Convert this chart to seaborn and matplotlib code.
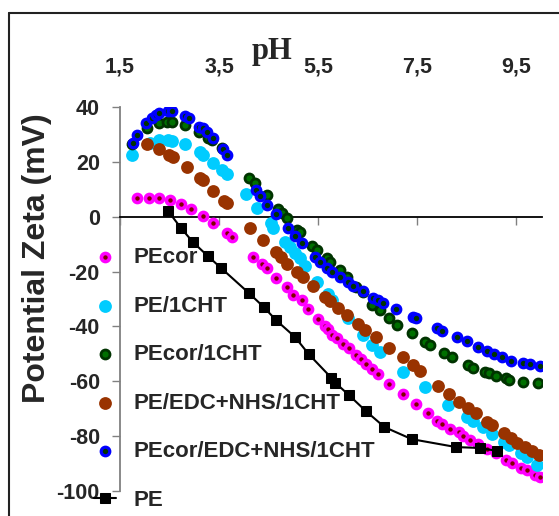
import matplotlib
matplotlib.use("Agg")
import matplotlib.pyplot as plt
from matplotlib.lines import Line2D
import seaborn as sns
import pandas as pd

# ---------------- data ----------------
x_ticks = [1.5, 3.5, 5.5, 7.5, 9.5]
x_tick_labels = ["1,5", "3,5", "5,5", "7,5", "9,5"]
y_ticks = [-100, -80, -60, -40, -20, 0, 20, 40]
y_tick_labels = ["-100", "-80", "-60", "-40", "-20", "0", "20", "40"]

pecor_ph = [1.84, 2.08, 2.29, 2.51, 2.73, 2.93, 3.17, 3.38, 3.66, 3.76, 4.18, 4.36, 4.46, 4.65,
            4.87, 4.99, 5.17, 5.29, 5.49, 5.63, 5.69, 5.79, 5.88, 6.00, 6.12, 6.26, 6.36, 6.46,
            6.58, 6.70, 6.94, 7.21, 7.47, 7.71, 7.91, 8.01, 8.17, 8.35, 8.42, 8.56, 8.72, 8.90,
            9.10, 9.30, 9.42, 9.60, 9.71, 9.87, 9.97]
pecor_z = [6.8, 6.8, 6.8, 6.1, 4.6, 2.8, 0.3, -2.3, -6.0, -7.4, -14.7, -17.2, -18.7, -22.3,
           -25.6, -28.5, -30.4, -33.6, -37.3, -39.8, -40.9, -43.1, -44.2, -46.4, -47.9, -50.4,
           -51.9, -53.7, -55.5, -57.3, -61.0, -64.6, -68.3, -71.6, -74.5, -75.6, -77.4, -78.5,
           -80.0, -81.4, -82.9, -84.7, -86.1, -88.7, -89.8, -91.6, -92.4, -94.2, -94.9]

pe1cht_ph = [1.74, 2.10, 2.29, 2.47, 2.55, 2.81, 3.11, 3.17, 3.38, 3.56, 3.66, 4.04, 4.26, 4.54,
             4.58, 4.83, 4.93, 5.03, 5.13, 5.23, 5.47, 5.69, 5.79, 6.10, 6.40, 6.58, 6.74, 7.21,
             7.65, 8.13, 8.50, 8.62, 8.82, 9.02, 9.26, 9.36, 9.60, 9.71, 9.91]
pe1cht_z = [22.5, 26.9, 28.0, 28.0, 27.6, 26.5, 23.6, 22.5, 19.6, 17.0, 15.6, 8.3, 3.2, -2.3,
            -4.1, -9.2, -11.0, -13.2, -15.0, -17.9, -23.8, -28.2, -30.4, -36.9, -43.1, -46.8,
            -49.3, -56.6, -62.1, -68.7, -73.0, -74.5, -76.7, -79.2, -82.1, -83.2, -86.1, -87.6,
            -90.5]

pecor1cht_ph = [1.74, 2.04, 2.29, 2.45, 2.55, 2.81, 3.09, 3.27, 3.35, 3.56, 4.10, 4.22, 4.46,
                4.69, 4.77, 4.87, 5.07, 5.13, 5.37, 5.47, 5.67, 5.73, 5.94, 6.08, 6.26, 6.40,
                6.58, 6.74, 6.94, 7.10, 7.39, 7.65, 7.75, 8.05, 8.21, 8.52, 8.62, 8.86, 8.94,
                9.10, 9.30, 9.36, 9.63, 9.93]
pecor1cht_z = [26.5, 32.3, 34.2, 34.5, 34.5, 33.4, 30.9, 28.7, 28.0, 25.0, 14.1, 12.3, 7.9,
               2.8, 1.3, -0.5, -4.8, -5.6, -10.7, -12.1, -15.0, -16.5, -19.4, -22.0, -25.6,
               -27.5, -32.2, -34.0, -36.9, -39.5, -42.4, -45.7, -46.8, -49.7, -51.2, -54.1,
               -55.2, -56.6, -57.0, -58.0, -58.8, -59.5, -60.2, -60.6]

peedc_ph = [2.04, 2.29, 2.49, 2.57, 2.85, 3.11, 3.17, 3.38, 3.60, 3.66, 4.12, 4.38, 4.65, 4.75,
            4.87, 5.07, 5.19, 5.39, 5.63, 5.73, 5.90, 6.08, 6.30, 6.44, 6.66, 6.94, 7.21, 7.41,
            7.55, 7.93, 8.15, 8.35, 8.52, 8.68, 8.90, 9.02, 9.26, 9.40, 9.52, 9.67, 9.81, 9.95]
peedc_z = [26.5, 24.7, 22.5, 21.8, 18.1, 14.1, 13.4, 9.4, 5.7, 5.0, -4.1, -8.5, -12.9, -14.7,
           -17.2, -20.1, -22.0, -25.3, -29.3, -30.7, -33.3, -35.8, -39.1, -41.3, -43.8, -47.9,
           -51.2, -54.1, -56.3, -61.7, -64.6, -67.5, -69.8, -71.6, -74.9, -75.9, -78.9, -80.7,
           -82.5, -84.0, -85.4, -86.9]

pecoredc_ph = [1.76, 1.84, 2.02, 2.15, 2.23, 2.29, 2.47, 2.55, 2.81, 2.89, 3.09, 3.17, 3.25,
               3.38, 3.58, 3.66, 4.24, 4.32, 4.46, 4.65, 4.89, 5.03, 5.17, 5.43, 5.53, 5.67,
               5.79, 5.94, 6.10, 6.20, 6.40, 6.60, 6.70, 6.80, 7.08, 7.41, 7.47, 7.91, 8.01,
               8.31, 8.50, 8.72, 8.90, 9.06, 9.22, 9.40, 9.63, 9.77, 9.97]
pecoredc_z = [26.9, 29.8, 34.2, 36.0, 37.1, 37.8, 38.5, 38.5, 36.7, 36.0, 32.7, 32.3, 30.9,
              28.7, 24.7, 22.5, 9.7, 7.5, 4.3, 1.0, -4.1, -7.0, -9.6, -14.7, -16.5, -18.7,
              -20.1, -22.0, -23.8, -25.3, -27.1, -29.6, -30.4, -31.4, -33.6, -36.6, -36.9,
              -40.6, -41.7, -43.8, -45.3, -47.5, -49.0, -50.1, -51.2, -52.6, -53.4, -53.7, -54.4]

pe_ph = [2.47, 2.73, 2.97, 3.27, 3.54, 4.10, 4.40, 4.65, 5.03, 5.31, 5.77, 5.85, 6.12, 6.46,
         6.84, 7.39, 8.29, 8.76, 9.12]
pe_z = [2.1, -4.1, -9.2, -14.3, -18.7, -27.8, -32.9, -37.7, -43.8, -50.1, -58.8, -60.6, -65.0,
        -70.8, -76.7, -81.1, -84.0, -84.3, -85.4]

# ---------------- style ----------------
sns.set_style("white")
plt.rcParams["font.family"] = ["Liberation Sans", "DejaVu Sans"]
plt.rcParams["font.weight"] = "bold"

W, H = 559, 516
fig = plt.figure(figsize=(W / 100, H / 100), dpi=100)
ax = fig.add_axes([120 / W, 1 - 491 / H, 422 / W, 384 / H])

series = [
    ("PEcor", pecor_ph, pecor_z, dict(s=34, color="#800000", edgecolor="#FF00FF", linewidth=2.6)),
    ("PE/1CHT", pe1cht_ph, pe1cht_z, dict(s=85, color="#00CCFF", edgecolor="#00CCFF", linewidth=0)),
    ("PEcor/1CHT", pecor1cht_ph, pecor1cht_z, dict(s=42, color="#007000", edgecolor="#003300", linewidth=2.0)),
    ("PE/EDC+NHS/1CHT", peedc_ph, peedc_z, dict(s=85, color="#993300", edgecolor="#993300", linewidth=0)),
    ("PEcor/EDC+NHS/1CHT", pecoredc_ph, pecoredc_z, dict(s=38, color="#003300", edgecolor="#0000FF", linewidth=2.3)),
]
for name, xs, ys, kw in series:
    df = pd.DataFrame({"pH": xs, "zeta": ys})
    sns.scatterplot(data=df, x="pH", y="zeta", ax=ax, label=name, zorder=3, **kw)

df_pe = pd.DataFrame({"pH": pe_ph, "zeta": pe_z})
sns.lineplot(data=df_pe, x="pH", y="zeta", ax=ax, color="black", marker="s", markersize=6.8,
             markeredgecolor="black", linewidth=1.5, label="PE", sort=False, zorder=4)

ax.set_xlim(1.5, 10.02)
ax.set_ylim(-100, 40)

# spines
for sp in ["top", "right"]:
    ax.spines[sp].set_visible(False)
ax.spines["bottom"].set_position(("data", 0))
ax.spines["bottom"].set_color("black")
ax.spines["bottom"].set_linewidth(1.3)
ax.spines["left"].set_color("#808080")
ax.spines["left"].set_linewidth(1.3)

ax.set_xticks(x_ticks)
ax.set_yticks(y_ticks)
ax.tick_params(axis="x", direction="out", length=5.5, width=1, color="#808080",
               bottom=True, top=False, labelbottom=False, labeltop=True, pad=16)
ax.tick_params(axis="y", direction="out", length=5.5, width=1, color="#808080",
               left=True, pad=9)
ax.set_xticklabels(x_tick_labels, fontweight="bold", fontsize=15.5)
ax.set_yticklabels(y_tick_labels, fontweight="bold", fontsize=15.5)

ax.set_xlabel("")
ax.set_ylabel("")
fig.text(37 / W, 1 - 258 / H, "Potential Zeta (mV)", rotation=90, ha="center", va="center",
         fontsize=23, fontweight="bold")
fig.text(272 / W, 1 - 51 / H, "pH", ha="center", va="center", fontsize=22,
         fontweight="bold", family=["Liberation Serif", "DejaVu Serif"])

leg = ax.legend(loc="upper left", bbox_to_anchor=(94 / W, 1 - 247 / H),
                bbox_transform=fig.transFigure, frameon=False, borderaxespad=0,
                borderpad=0, handlelength=1.0, handletextpad=0.77, labelspacing=1.24,
                prop={"weight": "bold", "size": 16})

# figure frame (top and left edges)
fig.add_artist(Line2D([9 / W, 1.0], [1 - 13 / H, 1 - 13 / H], transform=fig.transFigure,
                      color="#222222", linewidth=1.5))
fig.add_artist(Line2D([9 / W, 9 / W], [0.0, 1 - 13 / H], transform=fig.transFigure,
                      color="#222222", linewidth=1.5))

fig.savefig("out.png", dpi=100)
